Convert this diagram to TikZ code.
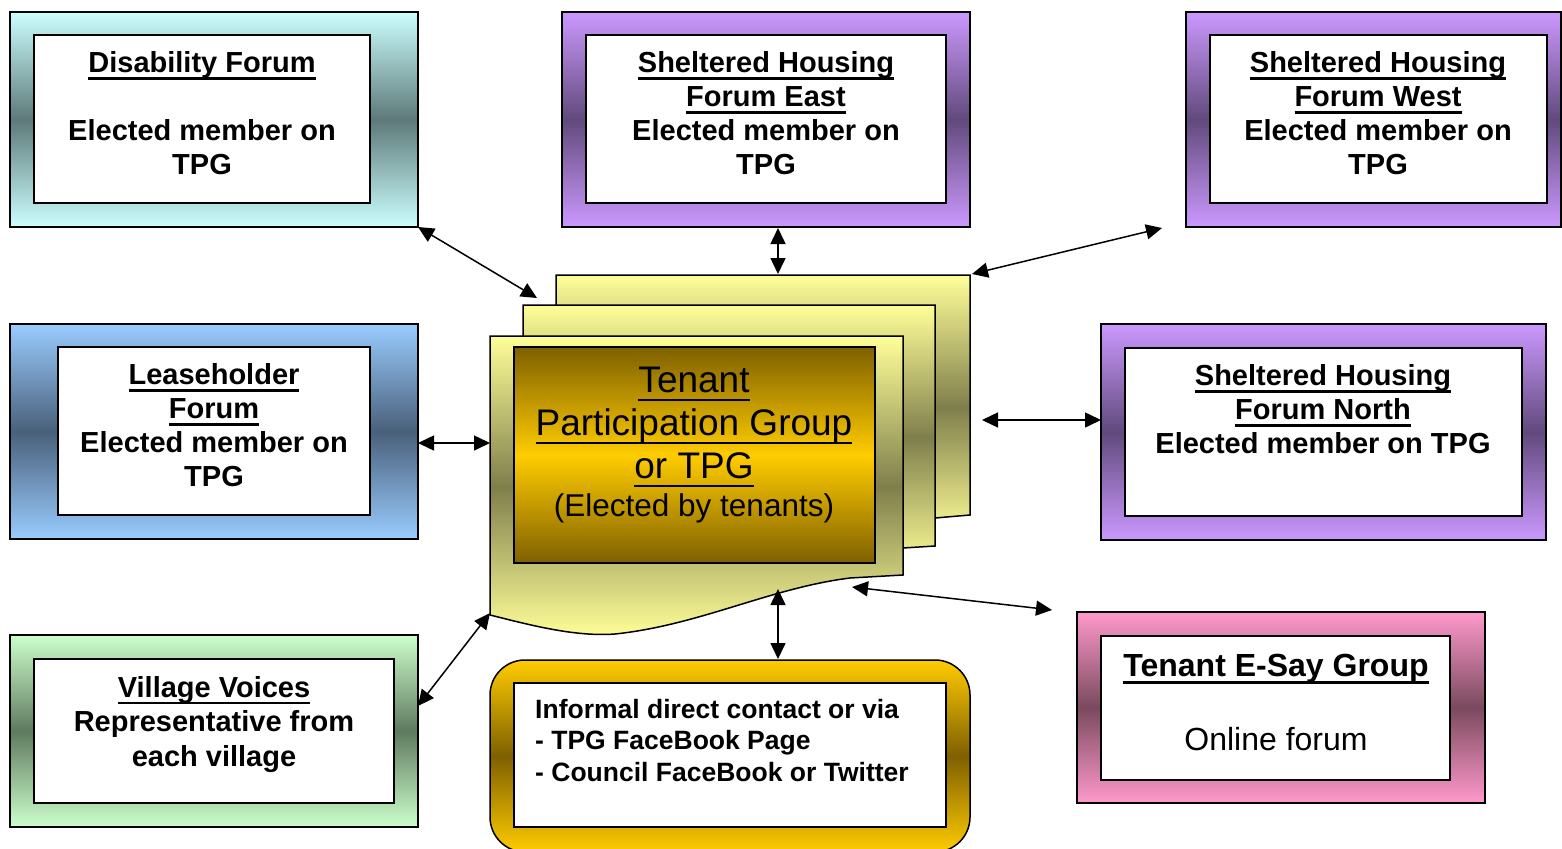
\documentclass[tikz,border=0pt]{standalone}
\usepackage{fontspec}
\setmainfont{Liberation Sans}
\newsavebox\myulbox
\newcommand{\uline}[1]{\sbox\myulbox{#1}\rlap{\rule[-0.24em]{\wd\myulbox}{2.4pt}}\usebox\myulbox}
\usetikzlibrary{arrows.meta}
\definecolor{cyanL}{HTML}{CCFFFF}\definecolor{cyanD}{HTML}{5E7979}
\definecolor{purL}{HTML}{CC99FF}\definecolor{purD}{HTML}{604A7C}
\definecolor{bluL}{HTML}{99CCFF}\definecolor{bluD}{HTML}{4A607A}
\definecolor{grnL}{HTML}{CCFFCC}\definecolor{grnD}{HTML}{5F7A5F}
\definecolor{pnkL}{HTML}{FF99CC}\definecolor{pnkD}{HTML}{7A4A5E}
\definecolor{golL}{HTML}{FFCC00}\definecolor{golD}{HTML}{7F6000}
\definecolor{yelL}{HTML}{FFFF99}\definecolor{yelD}{HTML}{7F7F4C}
\tikzset{
  grad/.style 2 args={top color=#1, bottom color=#1, middle color=#2},
  outerbox/.style={draw=black, line width=1.5pt, inner sep=0pt, outer sep=0pt},
  innerbox/.style={draw=black, line width=2pt, fill=white, inner sep=0pt, outer sep=0pt},
  lbl/.style={align=center, inner sep=0pt, font=\bfseries\fontsize{29}{34}\selectfont},
  page/.style={draw=black, line width=1.5pt, grad={yelL}{yelD}},
  link/.style={line width=1.5pt, {Triangle[length=16pt,width=15pt]}-{Triangle[length=16pt,width=15pt]}},
}
\begin{document}
\begin{tikzpicture}[x=1pt,y=-1pt]
\useasboundingbox (0,0) rectangle (1562,848);
% Disability Forum
\node[outerbox, grad={cyanL}{cyanD}, minimum width=408pt, minimum height=215pt] (dis) at (214,119.5) {};
\node[innerbox, minimum width=336pt, minimum height=168pt] (disin) at (202,119) {};
\node[lbl] (distxt) at (202,113.5) {\uline{Disability Forum}\\[34pt]Elected member on\\TPG};
% Sheltered Housing East
\node[outerbox, grad={purL}{purD}, minimum width=408pt, minimum height=215pt] (east) at (766,119.5) {};
\node[innerbox, minimum width=360pt, minimum height=168pt] (eastin) at (766,119) {};
\node[lbl] (easttxt) at (766,113.5) {\uline{Sheltered Housing}\\\uline{Forum East}\\Elected member on\\TPG};
% Sheltered Housing West
\node[outerbox, grad={purL}{purD}, minimum width=375pt, minimum height=215pt] (west) at (1373.5,119.5) {};
\node[innerbox, minimum width=337pt, minimum height=168pt] (westin) at (1378.5,119) {};
\node[lbl] (westtxt) at (1378,113.5) {\uline{Sheltered Housing}\\\uline{Forum West}\\Elected member on\\TPG};
% Leaseholder
\node[outerbox, grad={bluL}{bluD}, minimum width=408pt, minimum height=215pt] (lease) at (214,431.5) {};
\node[innerbox, minimum width=312pt, minimum height=168pt] (leasein) at (214,431) {};
\node[lbl] (leasetxt) at (214,425.5) {\uline{Leaseholder}\\\uline{Forum}\\Elected member on\\TPG};
% Sheltered Housing North
\node[outerbox, grad={purL}{purD}, minimum width=445pt, minimum height=216pt] (north) at (1323.5,432) {};
\node[innerbox, minimum width=397pt, minimum height=168pt] (northin) at (1323.5,432) {};
\node[lbl] (northtxt) at (1323,409.5) {\uline{Sheltered Housing}\\\uline{Forum North}\\Elected member on TPG};
% Village Voices
\node[outerbox, grad={grnL}{grnD}, minimum width=408pt, minimum height=192pt] (village) at (214,731) {};
\node[innerbox, minimum width=360pt, minimum height=144pt] (villagein) at (214,731) {};
\node[lbl, font=\bfseries\fontsize{29}{34.5}\selectfont] (villagetxt) at (214,724.5) {\uline{Village Voices}\\Representative from\\each village};
% Tenant E-Say
\node[outerbox, grad={pnkL}{pnkD}, minimum width=408pt, minimum height=191pt] (esay) at (1281,707.5) {};
\node[innerbox, minimum width=349pt, minimum height=144pt] (esayin) at (1275.5,708) {};
\node[align=center, inner sep=0pt, font=\fontsize{32}{37}\selectfont] (esaytxt) at (1276,702) {\textbf{\uline{Tenant E-Say Group}}\\[37pt]Online forum};
% Informal contact
\node[outerbox, grad={golL}{golD}, rounded corners=35pt, minimum width=480pt, minimum height=192pt] (informal) at (730,756) {};
\node[innerbox, minimum width=432pt, minimum height=144pt] (informalin) at (730,755) {};
\node[align=left, anchor=west, inner sep=0pt, font=\bfseries\fontsize{26.5}{31.5}\selectfont] (informaltxt) at (535,740.5) {Informal direct contact or via\\- TPG FaceBook Page\\- Council FaceBook or Twitter};
% TPG multi-page
\draw[page] (556,275) -- (970,275) -- (970,515) -- (935,518) -- (935,540) -- (556,540) -- cycle;
\draw[page] (523,305) -- (935,305) -- (935,546) -- (903,548) -- (903,570) -- (523,570) -- cycle;
\draw[page] (490,336) -- (903,336) -- (903,575) -- (850,578) .. controls (770,588) and (700,625) .. (615,634) .. controls (575,637) and (530,625) .. (490,615) -- cycle;
\node[draw=black, line width=2pt, grad={golD}{golL}, minimum width=361pt, minimum height=216pt, inner sep=0pt] (tpg) at (694.5,455) {};
\node[align=center, inner sep=0pt, font=\fontsize{37}{43}\selectfont] (tpgtxt) at (694,427) {\uline{Tenant}\\\uline{Participation Group}\\\uline{or TPG}};
\node[inner sep=0pt, font=\fontsize{31.5}{37}\selectfont] (tpgsub) at (694,508) {(Elected by tenants)};
% connector end points
\coordinate (c1) at (537,298);
\coordinate (c2a) at (778,228); \coordinate (c2b) at (778,274);
\coordinate (c3a) at (972,274); \coordinate (c3b) at (1162,228);
\coordinate (c4a) at (418,443); \coordinate (c4b) at (490,443);
\coordinate (c5a) at (982,420); \coordinate (c5b) at (1101,420);
\coordinate (c6a) at (852,587); \coordinate (c6b) at (1052,610);
\coordinate (c7a) at (778,589); \coordinate (c7b) at (778,659);
\coordinate (c8a) at (418,706); \coordinate (c8b) at (490,613);
\draw[link] (dis.south east) -- (c1);
\draw[link] (c2a) -- (c2b);
\draw[link] (c3a) -- (c3b);
\draw[link] (c4a) -- (c4b);
\draw[link] (c5a) -- (c5b);
\draw[link] (c6a) -- (c6b);
\draw[link] (c7a) -- (c7b);
\draw[link] (c8a) -- (c8b);
\end{tikzpicture}
\end{document}
